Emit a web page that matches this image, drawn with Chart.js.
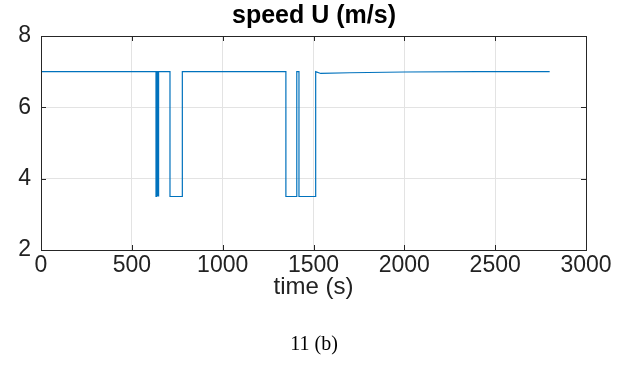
<!DOCTYPE html>
<html>
<head>
<meta charset="utf-8">
<script src="https://cdn.jsdelivr.net/npm/chart.js@4"></script>
<style>
  body { margin: 0; background: #fff; }
  #wrap { width: 628px; height: 368px; position: relative; }
</style>
</head>
<body>
<div id="wrap"><canvas id="speed"></canvas></div>
<script>
// time (s) and speed U (m/s)
const timeS = [0, 300, 633, 633, 635, 635, 640, 640, 642, 642, 646, 646, 648, 648,
  710, 710, 778, 778, 1348, 1348, 1408, 1408, 1420, 1420, 1512, 1512,
  1540, 1700, 2000, 2400, 2800];
const speedU = [7, 7, 7, 3.5, 3.5, 7, 7, 3.5, 3.5, 7, 7, 3.5, 3.5, 7,
  7, 3.5, 3.5, 7, 7, 3.5, 3.5, 7, 7, 3.5, 3.5, 7,
  6.95, 6.97, 6.99, 7, 7];
const xTicks = [0, 500, 1000, 1500, 2000, 2500, 3000];
const yTicks = [2, 4, 6, 8];

const boxLines = {
  id: 'boxLines',
  afterDatasetsDraw(chart) {
    const ctx = chart.ctx;
    const a = chart.chartArea;
    const sx = chart.scales.x, sy = chart.scales.y;
    ctx.save();
    ctx.strokeStyle = '#262626';
    ctx.lineWidth = 1;
    ctx.beginPath();
    xTicks.forEach(v => {
      const px = Math.round(sx.getPixelForValue(v)) + 0.5;
      ctx.moveTo(px, a.bottom); ctx.lineTo(px, a.bottom - 5);
      ctx.moveTo(px, a.top); ctx.lineTo(px, a.top + 5);
    });
    yTicks.forEach(v => {
      const py = Math.round(sy.getPixelForValue(v)) + 0.5;
      ctx.moveTo(a.left, py); ctx.lineTo(a.left + 5, py);
      ctx.moveTo(a.right, py); ctx.lineTo(a.right - 5, py);
    });
    ctx.stroke();
    ctx.strokeRect(Math.round(a.left) + 0.5, Math.round(a.top) + 0.5,
      Math.round(a.right - a.left), Math.round(a.bottom - a.top));
    ctx.restore();
  }
};

const pts = timeS.map((t, i) => ({ x: t, y: speedU[i] }));
const tickFont = { family: 'Liberation Sans', size: 23 };

new Chart(document.getElementById('speed'), {
  type: 'line',
  data: {
    datasets: [{
      data: pts,
      borderColor: '#0072BD',
      borderWidth: 1.2,
      pointRadius: 0,
      tension: 0,
      fill: false
    }]
  },
  options: {
    responsive: true,
    maintainAspectRatio: false,
    animation: false,
    layout: { padding: 0 },
    plugins: {
      legend: { display: false },
      tooltip: { enabled: false },
      title: {
        display: true,
        text: 'speed U (m/s)',
        color: '#000',
        font: { family: 'Liberation Sans', size: 25, weight: 'bold' },
        padding: { top: 1, bottom: 5 }
      },
      subtitle: {
        display: true,
        position: 'bottom',
        text: '11 (b)',
        color: '#000',
        font: { family: 'Liberation Serif', size: 20 },
        padding: { top: 0, bottom: 11 }
      }
    },
    scales: {
      x: {
        type: 'linear',
        min: 0,
        max: 3000,
        afterFit: s => { s.height = 83; },
        afterBuildTicks: s => { s.ticks = xTicks.map(v => ({ value: v })); },
        border: { display: false },
        grid: { color: '#e3e3e3', drawTicks: false },
        ticks: {
          padding: 2,
          color: '#222',
          maxRotation: 0,
          font: tickFont,
          callback: v => String(v)
        },
        title: {
          display: true,
          text: 'time (s)',
          color: '#222',
          font: { family: 'Liberation Sans', size: 24 },
          padding: { top: 0, bottom: 31 }
        }
      },
      y: {
        min: 2,
        max: 8,
        afterFit: s => { s.width = 41; },
        afterBuildTicks: s => { s.ticks = yTicks.map(v => ({ value: v })); },
        border: { display: false },
        grid: { color: '#e3e3e3', drawTicks: false },
        ticks: {
          padding: 10,
          color: '#222',
          font: tickFont,
          callback: v => String(v)
        }
      },
      yRight: {
        position: 'right',
        afterFit: s => { s.width = 42; },
        border: { display: false },
        grid: { display: false },
        ticks: { display: false }
      }
    }
  },
  plugins: [boxLines]
});
</script>
</body>
</html>
